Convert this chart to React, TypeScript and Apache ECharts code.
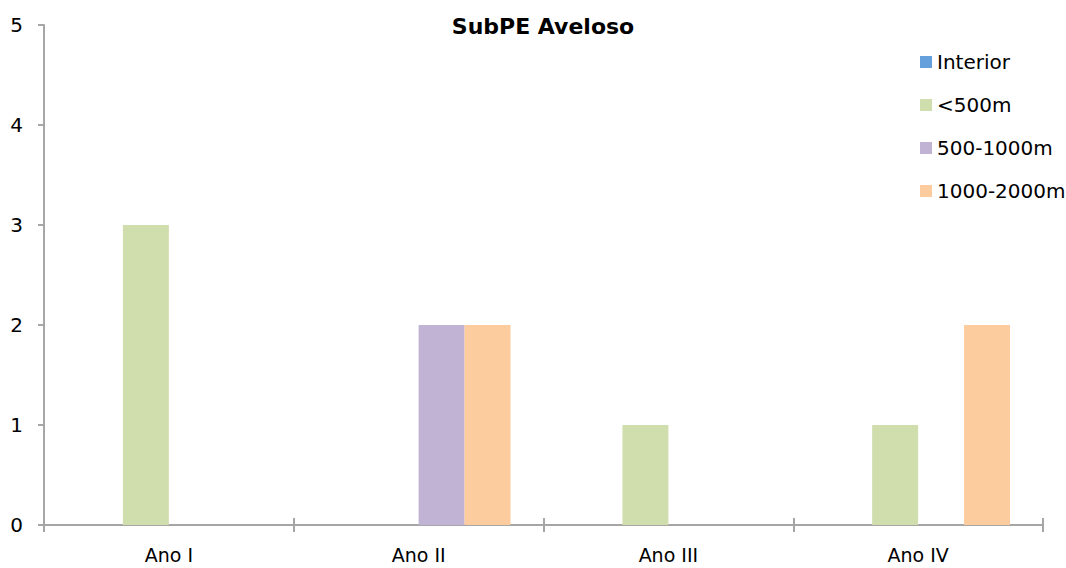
import React, { useEffect, useRef } from "react";
import * as echarts from "echarts";

const categories = ["Ano I", "Ano II", "Ano III", "Ano IV"];
const seriesNames = ["Interior", "<500m", "500-1000m", "1000-2000m"];
const interior = [0, 0, 0, 0];
const under500 = [3, 0, 1, 1];
const from500to1000 = [0, 2, 0, 0];
const from1000to2000 = [0, 2, 0, 2];
const colors = ["#65a0dd", "#d0ddad", "#c0b3d4", "#fccb9e"];
const yTicks = [0, 1, 2, 3, 4, 5];

const FONT = "'DejaVu Sans', sans-serif";

export default function App() {
  const ref = useRef<HTMLDivElement>(null);
  useEffect(() => {
    if (!ref.current) return;
    const chart = echarts.init(ref.current, undefined, { renderer: "svg" });
    const values = [interior, under500, from500to1000, from1000to2000];
    chart.setOption({
      animation: false,
      backgroundColor: "#ffffff",
      title: {
        text: "SubPE Aveloso",
        left: 538,
        textAlign: "center",
        top: 10,
        textStyle: { fontFamily: FONT, fontSize: 22, fontWeight: "bold", color: "#000" },
      },
      legend: {
        orient: "vertical",
        left: 915,
        top: 47,
        itemWidth: 12,
        itemHeight: 12,
        itemGap: 23,
        icon: "rect",
        data: seriesNames,
        textStyle: { fontFamily: FONT, fontSize: 20, color: "#000", padding: [0, 0, 0, 0] },
      },
      grid: { left: 44, right: 23, top: 25, bottom: 43, containLabel: false },
      xAxis: [
        {
          type: "category",
          data: categories,
          position: "bottom",
          axisLine: { lineStyle: { color: "#a6a6a6", width: 2 } },
          axisTick: { show: true, inside: false, length: 7, lineStyle: { color: "#a6a6a6", width: 2 } },
          axisLabel: { fontFamily: FONT, fontSize: 19, color: "#000", margin: 20 },
        },
        {
          type: "category",
          data: categories,
          position: "bottom",
          axisLine: { show: false },
          axisTick: { show: true, inside: true, length: 7, lineStyle: { color: "#a6a6a6", width: 2 } },
          axisLabel: { show: false },
        },
      ],
      yAxis: {
        type: "value",
        min: 0,
        max: 5,
        interval: 1,
        splitLine: { show: false },
        axisLine: { show: true, lineStyle: { color: "#a6a6a6", width: 2 } },
        axisTick: { show: true, length: 6, lineStyle: { color: "#a6a6a6", width: 2 } },
        axisLabel: {
          fontFamily: FONT,
          fontSize: 20,
          color: "#000",
          margin: 21,
          formatter: (v: number) => (yTicks.includes(v) ? String(v) : ""),
        },
      },
      series: seriesNames.map((name, i) => ({
        name,
        type: "bar",
        xAxisIndex: 0,
        data: values[i],
        barGap: "0%",
        barCategoryGap: "26.4%",
        itemStyle: { color: colors[i] },
      })),
    });
    return () => chart.dispose();
  }, []);
  return <div ref={ref} style={{ width: 1066, height: 568, position: "absolute", left: 0, top: 0 }} />;
}
